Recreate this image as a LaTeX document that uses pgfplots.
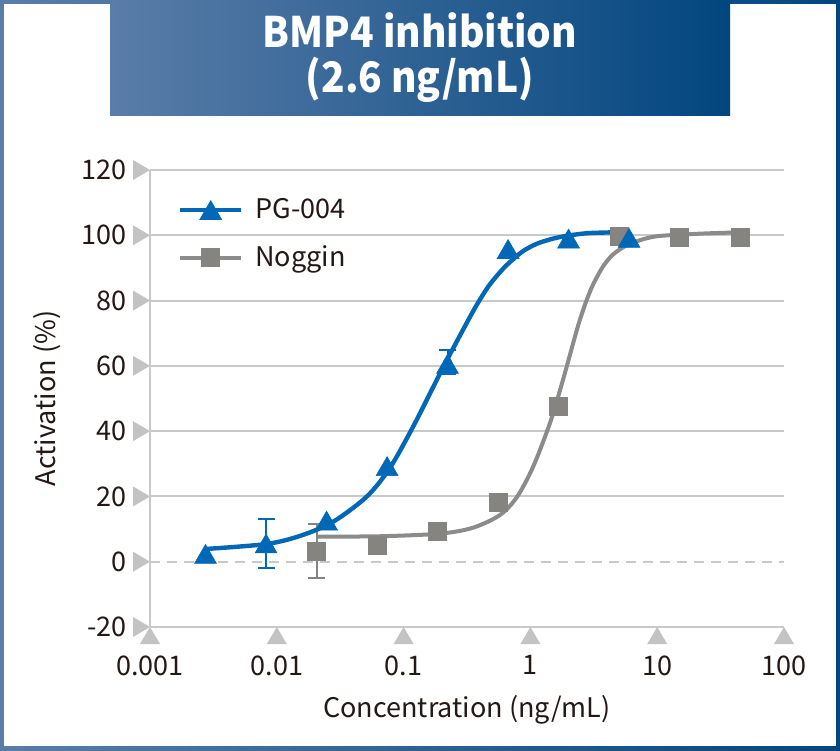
\documentclass[border=0pt]{standalone}
\usepackage{fontspec}
\setmainfont{Noto Sans CJK JP}
\usepackage{pgfplots}
\pgfplotsset{compat=1.18}

\definecolor{frameL}{HTML}{5A7DA8}
\definecolor{frameR}{HTML}{02467F}
\definecolor{textc}{HTML}{231815}
\definecolor{gridc}{HTML}{C9C9C9}
\definecolor{tickc}{HTML}{C3C3C3}
\definecolor{pgblue}{HTML}{0068B7}
\definecolor{nogmark}{HTML}{868480}
\definecolor{nogline}{HTML}{8B8B8B}

\begin{document}
\begin{tikzpicture}
% frame and title box
\shade[left color=frameL, right color=frameR] (-75pt,-61.5pt) rectangle (345pt,313.5pt);
\fill[white] (-73pt,-59.5pt) rectangle (343pt,311.5pt);
\shade[left color=frameL, right color=frameR] (-20pt,255.5pt) rectangle (290pt,313.5pt);
\node[font=\bfseries\fontsize{21}{22.5}\selectfont, text=white, align=center,
  xscale=0.925, transform shape]
  at (135pt,284.75pt) {BMP4 inhibition\\(2.6 ng/mL)};

\begin{axis}[
  at={(0pt,0pt)}, anchor=south west,
  scale only axis, width=317pt, height=228.5pt,
  xmode=log, xmin=0.001, xmax=100,
  ymin=-20, ymax=120,
  axis lines*=left,
  axis line style={gridc, line width=1pt},
  xtick={0.001,0.01,0.1,1,10,100},
  xticklabels={0.001,0.01,0.1,1,10,100},
  ytick={-20,0,20,40,60,80,100,120},
  minor ytick={20,40,60,80,100,120},
  yminorgrids,
  minor grid style={gridc, line width=1pt},
  extra y ticks={0},
  extra y tick labels={},
  extra y tick style={ymajorgrids=true,
    major grid style={gridc, line width=1pt, dash pattern=on 5pt off 3.5pt}},
  major tick length=0pt, minor tick length=0pt,
  /pgf/number format/assume math mode=true,
  tick label style={font=\fontsize{13.5}{16}\selectfont, text=textc, inner sep=0pt},
  xticklabel style={anchor=north, yshift=-14pt},
  yticklabel style={anchor=east, xshift=-11.5pt},
  every axis x label/.style={at={(rel axis cs:0.5,0)}, yshift=-41.5pt, anchor=center,
    font=\fontsize{13.5}{16}\selectfont, text=textc},
  every axis y label/.style={at={(rel axis cs:0,0.5)}, xshift=-51.5pt, rotate=90, anchor=center,
    font=\fontsize{13.5}{16}\selectfont, text=textc},
  xlabel={Concentration (ng/mL)},
  ylabel={Activation (\%)},
  legend style={at={(0.0442,0.86)}, anchor=west, draw=none, fill=none,
    inner sep=0pt, outer sep=0pt, row sep=12pt, column sep=6pt,
    font=\fontsize{13.5}{16}\selectfont, text=textc, nodes={inner sep=0pt}},
  legend cell align=left,
  legend image code/.code={\draw[mark repeat=2,mark phase=2,#1]
    plot coordinates {(0pt,0pt) (15.25pt,0pt) (30.5pt,0pt)};},
]

\addlegendimage{pgblue, line width=2.2pt, mark=triangle*, mark size=6.3pt,
  mark options={yshift=-1.6pt, line width=0.3pt}}
\addlegendentry{PG-004}
\addlegendimage{nogline, line width=2pt, mark=square*, mark size=4.5pt,
  mark options={nogmark, line width=0.3pt}}
\addlegendentry{Noggin}

% Noggin fitted curve
\addplot[nogline, line width=2pt, smooth, forget plot] coordinates {
  (0.0206,7.7) (0.0652,7.8) (0.1936,8.6) (0.352,10.4) (0.575,14.3)
  (0.783,19.8) (1.048,29.0) (1.428,42.5) (1.807,55.7) (2.32,70.9)
  (2.55,76.0) (2.78,80.2) (3.13,85.0) (3.76,90.6) (4.51,94.2)
  (5.74,96.9) (7.77,98.8) (10.5,99.8) (21.8,100.5) (45,100.9)};
% Noggin error bar
\addplot[nogmark, only marks, mark=none, forget plot,
  error bars/.cd, y dir=both, y explicit,
  error bar style={line width=1pt, nogmark},
  error mark options={rotate=90, mark size=4.25pt, line width=1pt, nogmark}]
  coordinates {(0.0206,3.3) +- (0,8.2)};
% Noggin points
\addplot[nogmark, only marks, mark=square*, mark size=4.5pt,
  mark options={line width=0.3pt}, forget plot] coordinates {
  (0.0206,3.3) (0.0617,5.1) (0.185,9.4) (0.556,18.1)
  (1.667,47.7) (5,99.7) (15,99.5) (45,99.5)};

% PG-004 fitted curve
\addplot[pgblue, line width=2.2pt, smooth, forget plot] coordinates {
  (0.00274,3.9) (0.0082,5.4) (0.01524,7.9) (0.0277,12.2) (0.0514,20.0)
  (0.0782,28.8) (0.1186,41.3) (0.1706,53.4) (0.2198,61.8) (0.334,75.0)
  (0.40,80.3) (0.48,85.0) (0.611,89.8) (0.733,92.7) (0.879,95.2)
  (1.122,97.4) (1.517,99.0) (2.05,100.0) (3.0,100.7) (6.0,101.0)};
% PG-004 error bars
\addplot[pgblue, only marks, mark=none, forget plot,
  error bars/.cd, y dir=both, y explicit,
  error bar style={line width=1pt, pgblue},
  error mark options={rotate=90, mark size=4.25pt, line width=1pt, pgblue}]
  coordinates {(0.00823,5.6) +- (0,7.5) (0.222,61.2) +- (0,3.7)};
% PG-004 points
\addplot[pgblue, only marks, mark=triangle*, mark size=6.3pt,
  mark options={yshift=-1.6pt, line width=0.3pt}, forget plot] coordinates {
  (0.00274,2.4) (0.00823,5.6) (0.0247,12.6) (0.0741,29.3)
  (0.222,60.6) (0.667,95.8) (2,99.0) (6,99.2)};
\end{axis}

% triangular tick marks
\foreach \i in {0,...,5}
  \fill[tickc] (\i*63.4pt,0pt) -- ++(-5pt,-8.5pt) -- ++(10pt,0pt) -- cycle;
\foreach \j in {0,...,7}
  \fill[tickc] (0pt,\j*32.642857pt) -- ++(-8.5pt,5pt) -- ++(0pt,-10pt) -- cycle;

\pgfresetboundingbox
\path[use as bounding box] (-75pt,-61.5pt) rectangle (345pt,313.5pt);
\end{tikzpicture}
\end{document}
